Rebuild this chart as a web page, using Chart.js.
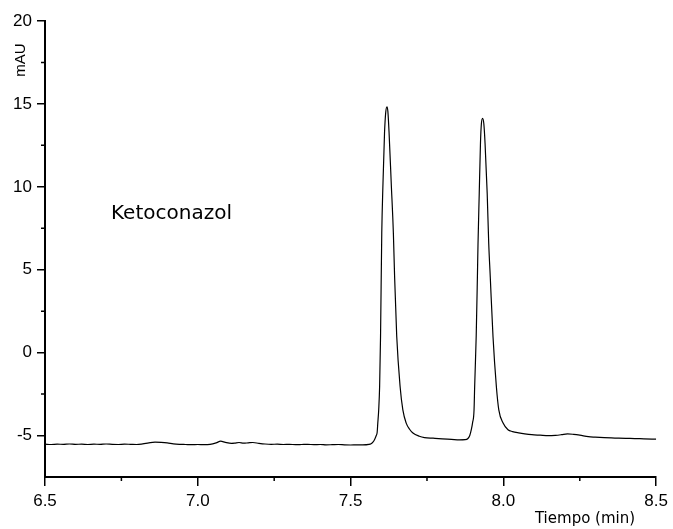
<!DOCTYPE html>
<html>
<head>
<meta charset="utf-8">
<script src="https://cdn.jsdelivr.net/npm/chart.js@4"></script>
<style>
  body { margin: 0; background: #fff; }
  canvas { display: block; }
</style>
</head>
<body>
<canvas id="cromatograma" width="673" height="529"></canvas>
<script>
// Tiempo de retención (min) y absorbancia (mAU) del cromatograma
const tiempo = [
  6.50, 6.52, 6.54, 6.56, 6.58, 6.60, 6.62, 6.64, 6.66, 6.68,
  6.70, 6.72, 6.74, 6.76, 6.78, 6.80, 6.82, 6.84, 6.86, 6.88,
  6.90, 6.92, 6.94, 6.96, 6.98, 7.00, 7.02, 7.04, 7.06, 7.075,
  7.09, 7.11, 7.12, 7.135, 7.15, 7.165, 7.18, 7.20, 7.22, 7.24,
  7.26, 7.28, 7.30, 7.32, 7.34, 7.36, 7.38, 7.40, 7.42, 7.44,
  7.46, 7.48, 7.50, 7.52, 7.54, 7.56, 7.567,
  // primer pico
  7.573, 7.579, 7.584, 7.587, 7.589, 7.592, 7.595, 7.598, 7.602, 7.606,
  7.611, 7.615, 7.619, 7.622, 7.626, 7.633, 7.640, 7.644, 7.651, 7.662,
  7.671, 7.682, 7.693, 7.704, 7.725, 7.742, 7.77, 7.80, 7.83, 7.856,
  7.875, 7.884,
  // segundo pico
  7.890, 7.895, 7.899, 7.904, 7.906, 7.911, 7.915, 7.917, 7.921, 7.925,
  7.928, 7.932, 7.936, 7.940, 7.947, 7.952, 7.957, 7.966, 7.977, 7.985,
  7.999, 8.015, 8.03, 8.05, 8.07, 8.093, 8.12, 8.147, 8.17, 8.19,
  8.21, 8.23, 8.25, 8.278, 8.30, 8.33, 8.365, 8.40, 8.43, 8.46, 8.50
];

const absorbancia = [
  -5.52, -5.54, -5.52, -5.53, -5.51, -5.53, -5.52, -5.54, -5.52, -5.53,
  -5.51, -5.53, -5.54, -5.52, -5.53, -5.54, -5.50, -5.44, -5.40, -5.41,
  -5.44, -5.50, -5.53, -5.54, -5.55, -5.54, -5.55, -5.53, -5.44, -5.34,
  -5.41, -5.47, -5.46, -5.42, -5.46, -5.44, -5.42, -5.47, -5.51, -5.53,
  -5.52, -5.54, -5.53, -5.55, -5.54, -5.53, -5.55, -5.54, -5.56, -5.55,
  -5.54, -5.56, -5.57, -5.56, -5.56, -5.53, -5.49,
  -5.40, -5.22, -5.00, -4.80, -4.25, -3.45, -2.04, 0.97, 7.20, 10.22,
  13.23, 14.50, 14.83, 14.55, 13.23, 10.22, 7.20, 4.59, 0.97, -2.04,
  -3.45, -4.25, -4.62, -4.85, -5.04, -5.12, -5.16, -5.20, -5.23, -5.26,
  -5.25, -5.18,
  -5.00, -4.65, -4.25, -3.45, -2.04, 0.97, 4.59, 6.60, 9.61, 12.63,
  13.80, 14.13, 13.80, 12.63, 9.61, 6.60, 4.59, 0.97, -2.04, -3.45,
  -4.25, -4.65, -4.76, -4.84, -4.90, -4.95, -4.98, -5.01, -4.99, -4.95,
  -4.90, -4.93, -4.98, -5.07, -5.10, -5.13, -5.15, -5.17, -5.18, -5.20, -5.22
];

// ticks menores entre las marcas principales
const menoresX = [6.75, 7.25, 7.75, 8.25];
const menoresY = [17.5, 12.5, 7.5, 2.5, -2.5];

const fuenteNum = '"Liberation Sans", Arial, sans-serif';
const fuenteTexto = '"Comic Sans MS", "DejaVu Sans", sans-serif';

// dibuja ticks menores y los textos sueltos
const extras = {
  id: 'extras',
  afterDraw(chart) {
    const ctx = chart.ctx;
    const xs = chart.scales.x, ys = chart.scales.y;
    const area = chart.chartArea;
    ctx.save();
    ctx.strokeStyle = '#000';
    ctx.lineWidth = 1.5;
    ctx.beginPath();
    menoresX.forEach(v => {
      const px = xs.getPixelForValue(v);
      ctx.moveTo(px, area.bottom);
      ctx.lineTo(px, area.bottom + 4);
    });
    menoresY.forEach(v => {
      const py = ys.getPixelForValue(v);
      ctx.moveTo(area.left, py);
      ctx.lineTo(area.left - 4, py);
    });
    ctx.stroke();

    ctx.fillStyle = '#000';
    ctx.font = '20px ' + fuenteTexto;
    ctx.textAlign = 'left';
    ctx.textBaseline = 'alphabetic';
    ctx.fillText('Ketoconazol', 111, 219);

    ctx.font = '15px ' + fuenteTexto;
    ctx.textAlign = 'center';
    ctx.fillText('Tiempo (min)', 585, 523);

    ctx.translate(25, 60);
    ctx.rotate(-Math.PI / 2);
    ctx.font = '15px ' + fuenteNum;
    ctx.textAlign = 'center';
    ctx.fillText('mAU', 0, 0);
    ctx.restore();
  }
};

new Chart(document.getElementById('cromatograma').getContext('2d'), {
  type: 'line',
  data: {
    datasets: [{
      data: tiempo.map((t, i) => ({ x: t, y: absorbancia[i] })),
      borderColor: '#000',
      borderWidth: 1.2,
      pointRadius: 0,
      fill: false,
      cubicInterpolationMode: 'monotone'
    }]
  },
  options: {
    responsive: false,
    animation: false,
    layout: { padding: { top: 21, right: 16, left: 0, bottom: 0 } },
    plugins: {
      legend: { display: false },
      tooltip: { enabled: false }
    },
    scales: {
      x: {
        type: 'linear',
        min: 6.5,
        max: 8.5,
        afterFit: s => { s.height = 52; },
        border: { display: true, color: '#000', width: 2 },
        grid: { drawOnChartArea: false, tickLength: 9, color: '#000', lineWidth: 1.5 },
        ticks: {
          stepSize: 0.5,
          color: '#000',
          padding: 5,
          maxRotation: 0,
          font: { family: fuenteNum, size: 17 },
          callback: v => Number(v).toFixed(1)
        }
      },
      y: {
        min: -7.5,
        max: 20,
        afterFit: s => { s.width = 45; },
        border: { display: true, color: '#000', width: 2 },
        grid: { drawOnChartArea: false, tickLength: 8, color: '#000', lineWidth: 1.5 },
        ticks: {
          stepSize: 5,
          includeBounds: false,
          color: '#000',
          padding: 5,
          font: { family: fuenteNum, size: 17 }
        }
      }
    }
  },
  plugins: [extras]
});
</script>
</body>
</html>
